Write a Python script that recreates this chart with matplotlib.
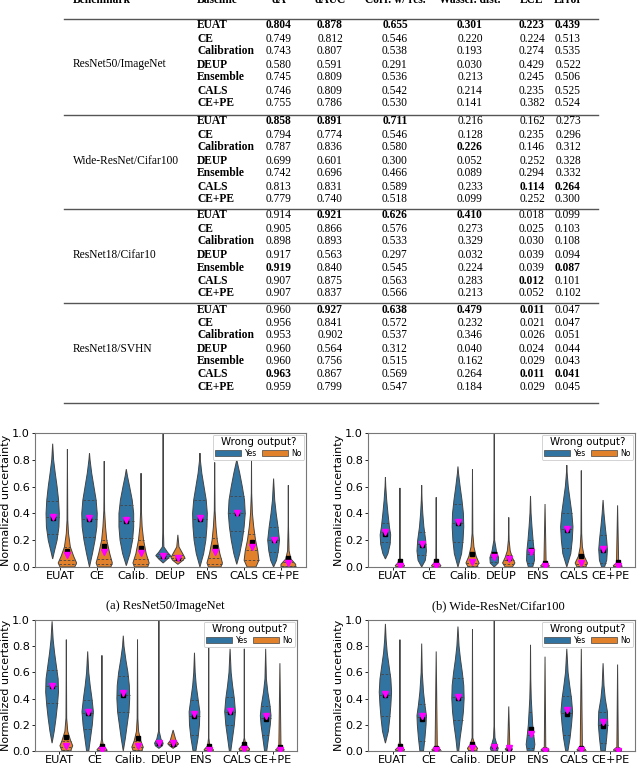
import matplotlib.pyplot as plt
import numpy as np
from matplotlib.patches import Patch

W, H = 640, 768

# ---------------- table data ----------------
benchmarks = ['ResNet50/ImageNet', 'Wide-ResNet/Cifar100', 'ResNet18/Cifar10', 'ResNet18/SVHN']
baselines = ['EUAT', 'CE', 'Calibration', 'DEUP', 'Ensemble', 'CALS', 'CE+PE']
columns = ['Benchmark', 'Baseline', 'dA', 'dAUC', 'Corr. w/ res.', 'Wasser. dist.', 'ECE', 'Error']

imagenet_vals = [
    ['0.804', '0.878', '0.655', '0.301', '0.223', '0.439'],
    ['0.749', '0.812', '0.546', '0.220', '0.224', '0.513'],
    ['0.743', '0.807', '0.538', '0.193', '0.274', '0.535'],
    ['0.580', '0.591', '0.291', '0.030', '0.429', '0.522'],
    ['0.745', '0.809', '0.536', '0.213', '0.245', '0.506'],
    ['0.746', '0.809', '0.542', '0.214', '0.235', '0.525'],
    ['0.755', '0.786', '0.530', '0.141', '0.382', '0.524'],
]
cifar100_vals = [
    ['0.858', '0.891', '0.711', '0.216', '0.162', '0.273'],
    ['0.794', '0.774', '0.546', '0.128', '0.235', '0.296'],
    ['0.787', '0.836', '0.580', '0.226', '0.146', '0.312'],
    ['0.699', '0.601', '0.300', '0.052', '0.252', '0.328'],
    ['0.742', '0.696', '0.466', '0.089', '0.294', '0.332'],
    ['0.813', '0.831', '0.589', '0.233', '0.114', '0.264'],
    ['0.779', '0.740', '0.518', '0.099', '0.252', '0.300'],
]
cifar10_vals = [
    ['0.914', '0.921', '0.626', '0.410', '0.018', '0.099'],
    ['0.905', '0.866', '0.576', '0.273', '0.025', '0.103'],
    ['0.898', '0.893', '0.533', '0.329', '0.030', '0.108'],
    ['0.917', '0.563', '0.297', '0.032', '0.039', '0.094'],
    ['0.919', '0.840', '0.545', '0.224', '0.039', '0.087'],
    ['0.907', '0.875', '0.563', '0.283', '0.012', '0.101'],
    ['0.907', '0.837', '0.566', '0.213', '0.052', '0.102'],
]
svhn_vals = [
    ['0.960', '0.927', '0.638', '0.479', '0.011', '0.047'],
    ['0.956', '0.841', '0.572', '0.232', '0.021', '0.047'],
    ['0.953', '0.902', '0.537', '0.346', '0.026', '0.051'],
    ['0.960', '0.564', '0.312', '0.040', '0.024', '0.044'],
    ['0.960', '0.756', '0.515', '0.162', '0.029', '0.043'],
    ['0.963', '0.867', '0.569', '0.264', '0.011', '0.041'],
    ['0.959', '0.799', '0.547', '0.184', '0.029', '0.045'],
]
# (row, column) of bold entries
imagenet_bold = [(0, 0), (0, 1), (0, 2), (0, 3), (0, 4), (0, 5)]
cifar100_bold = [(0, 0), (0, 1), (0, 2), (2, 3), (5, 4), (5, 5)]
cifar10_bold = [(0, 1), (0, 2), (0, 3), (4, 0), (4, 5), (5, 4)]
svhn_bold = [(0, 1), (0, 2), (0, 3), (0, 4), (5, 0), (5, 4), (5, 5)]

# ---------------- violin data ----------------
cats = ['EUAT', 'CE', 'Calib.', 'DEUP', 'ENS', 'CALS', 'CE+PE']

# profiles: (uncertainty, half width)
a_yes = [
    [(0.06, 0), (0.12, 0.05), (0.2, 0.12), (0.3, 0.17), (0.4, 0.18), (0.5, 0.16), (0.6, 0.12), (0.7, 0.07), (0.8, 0.025), (0.92, 0)],
    [(0.0, 0), (0.1, 0.08), (0.2, 0.15), (0.3, 0.2), (0.4, 0.21), (0.5, 0.18), (0.6, 0.12), (0.7, 0.06), (0.8, 0.015), (0.85, 0)],
    [(0.01, 0), (0.1, 0.1), (0.2, 0.17), (0.3, 0.2), (0.4, 0.2), (0.5, 0.16), (0.6, 0.09), (0.68, 0.03), (0.73, 0)],
    [(0.03, 0), (0.06, 0.12), (0.085, 0.2), (0.11, 0.12), (0.15, 0.02), (0.3, 0.005), (1.0, 0)],
    [(0.0, 0), (0.1, 0.1), (0.2, 0.16), (0.3, 0.19), (0.4, 0.2), (0.5, 0.17), (0.6, 0.11), (0.7, 0.05), (0.8, 0.01), (0.85, 0)],
    [(0.02, 0), (0.1, 0.08), (0.2, 0.15), (0.3, 0.2), (0.4, 0.23), (0.5, 0.21), (0.6, 0.15), (0.7, 0.08), (0.8, 0)],
    [(0.0, 0), (0.05, 0.08), (0.12, 0.13), (0.2, 0.16), (0.3, 0.12), (0.4, 0.07), (0.5, 0.03), (0.66, 0)],
]
a_no = [
    [(0.0, 0.2), (0.03, 0.25), (0.08, 0.17), (0.15, 0.08), (0.25, 0.03), (0.35, 0.01), (0.88, 0)],
    [(0.0, 0.18), (0.03, 0.22), (0.1, 0.15), (0.2, 0.07), (0.3, 0.035), (0.42, 0.01), (0.79, 0)],
    [(0.0, 0.18), (0.03, 0.22), (0.1, 0.14), (0.2, 0.07), (0.3, 0.03), (0.42, 0.01), (0.7, 0)],
    [(0.02, 0), (0.05, 0.14), (0.07, 0.19), (0.1, 0.13), (0.15, 0.03), (0.24, 0)],
    [(0.0, 0.17), (0.03, 0.21), (0.1, 0.14), (0.2, 0.07), (0.3, 0.035), (0.42, 0.01), (0.78, 0)],
    [(0.0, 0.12), (0.05, 0.2), (0.12, 0.17), (0.2, 0.11), (0.3, 0.06), (0.4, 0.025), (0.55, 0.005), (0.8, 0)],
    [(0.0, 0.2), (0.02, 0.2), (0.06, 0.07), (0.12, 0.02), (0.3, 0.005), (0.61, 0)],
]
b_yes = [
    [(0.06, 0), (0.1, 0.07), (0.17, 0.13), (0.24, 0.145), (0.3, 0.11), (0.4, 0.07), (0.5, 0.035), (0.6, 0.01), (0.67, 0)],
    [(0.0, 0), (0.05, 0.1), (0.12, 0.13), (0.2, 0.11), (0.3, 0.06), (0.4, 0.03), (0.5, 0.01), (0.61, 0)],
    [(0.0, 0), (0.1, 0.1), (0.2, 0.14), (0.3, 0.16), (0.4, 0.15), (0.5, 0.11), (0.6, 0.06), (0.7, 0.015), (0.75, 0)],
    [(0.0, 0), (0.03, 0.11), (0.07, 0.12), (0.12, 0.06), (0.2, 0.01), (1.0, 0)],
    [(0.0, 0.06), (0.05, 0.11), (0.12, 0.1), (0.2, 0.07), (0.3, 0.04), (0.4, 0.015), (0.53, 0)],
    [(0.0, 0), (0.1, 0.11), (0.2, 0.15), (0.3, 0.17), (0.4, 0.14), (0.5, 0.09), (0.6, 0.04), (0.7, 0.01), (0.76, 0)],
    [(0.0, 0.04), (0.05, 0.1), (0.13, 0.12), (0.2, 0.1), (0.3, 0.06), (0.4, 0.025), (0.5, 0)],
]
b_no = [
    [(0.0, 0.1), (0.01, 0.13), (0.03, 0.06), (0.06, 0.01), (0.59, 0)],
    [(0.0, 0.1), (0.01, 0.13), (0.03, 0.06), (0.06, 0.01), (0.52, 0)],
    [(0.0, 0.12), (0.03, 0.18), (0.08, 0.1), (0.15, 0.04), (0.25, 0.01), (0.73, 0)],
    [(0.0, 0.1), (0.03, 0.17), (0.07, 0.1), (0.12, 0.04), (0.2, 0.01), (0.37, 0)],
    [(0.0, 0.1), (0.01, 0.12), (0.03, 0.03), (0.47, 0)],
    [(0.0, 0.12), (0.03, 0.17), (0.08, 0.08), (0.15, 0.03), (0.25, 0.01), (0.72, 0)],
    [(0.0, 0.1), (0.01, 0.12), (0.03, 0.03), (0.46, 0)],
]
c_yes = [
    [(0.06, 0), (0.15, 0.06), (0.25, 0.11), (0.35, 0.15), (0.45, 0.18), (0.55, 0.17), (0.65, 0.12), (0.75, 0.07), (0.85, 0.03), (0.99, 0)],
    [(0.0, 0.03), (0.1, 0.08), (0.2, 0.13), (0.3, 0.16), (0.4, 0.12), (0.5, 0.07), (0.6, 0.03), (0.76, 0)],
    [(0.0, 0), (0.1, 0.06), (0.2, 0.11), (0.3, 0.16), (0.4, 0.18), (0.5, 0.17), (0.6, 0.13), (0.7, 0.07), (0.8, 0.02), (0.88, 0)],
    [(0.02, 0), (0.04, 0.1), (0.06, 0.12), (0.09, 0.06), (0.15, 0.01), (1.0, 0)],
    [(0.0, 0.04), (0.1, 0.1), (0.2, 0.14), (0.3, 0.15), (0.4, 0.1), (0.5, 0.05), (0.6, 0.02), (0.75, 0)],
    [(0.0, 0.02), (0.1, 0.07), (0.2, 0.12), (0.3, 0.15), (0.4, 0.12), (0.5, 0.07), (0.6, 0.03), (0.78, 0)],
    [(0.0, 0.03), (0.1, 0.08), (0.2, 0.13), (0.27, 0.15), (0.35, 0.12), (0.45, 0.06), (0.55, 0.02), (0.78, 0)],
]
c_no = [
    [(0.0, 0.12), (0.04, 0.18), (0.08, 0.12), (0.15, 0.04), (0.25, 0.01), (0.85, 0)],
    [(0.0, 0.12), (0.01, 0.14), (0.04, 0.04), (0.1, 0.005), (0.73, 0)],
    [(0.0, 0.12), (0.03, 0.16), (0.08, 0.09), (0.15, 0.03), (0.25, 0.01), (0.85, 0)],
    [(0.02, 0), (0.04, 0.1), (0.055, 0.15), (0.08, 0.08), (0.16, 0)],
    [(0.0, 0.12), (0.01, 0.13), (0.04, 0.03), (0.1, 0.005), (0.8, 0)],
    [(0.0, 0.12), (0.015, 0.15), (0.05, 0.04), (0.1, 0.005), (0.78, 0)],
    [(0.0, 0.1), (0.01, 0.12), (0.03, 0.03), (0.67, 0)],
]
d_yes = [
    [(0.06, 0), (0.15, 0.08), (0.25, 0.12), (0.35, 0.15), (0.45, 0.17), (0.55, 0.15), (0.65, 0.1), (0.75, 0.05), (0.85, 0.02), (0.97, 0)],
    [(0.0, 0.05), (0.1, 0.09), (0.2, 0.12), (0.27, 0.13), (0.35, 0.09), (0.45, 0.05), (0.6, 0.015), (0.82, 0)],
    [(0.0, 0.02), (0.1, 0.06), (0.2, 0.11), (0.3, 0.15), (0.4, 0.17), (0.5, 0.16), (0.6, 0.12), (0.7, 0.07), (0.8, 0.03), (0.95, 0)],
    [(0.0, 0.08), (0.02, 0.11), (0.05, 0.07), (0.1, 0.02), (0.2, 0.005), (1.0, 0)],
    [(0.0, 0.09), (0.05, 0.12), (0.12, 0.09), (0.2, 0.06), (0.3, 0.04), (0.4, 0.02), (0.55, 0.007), (0.81, 0)],
    [(0.0, 0.03), (0.1, 0.09), (0.2, 0.13), (0.3, 0.16), (0.4, 0.13), (0.5, 0.08), (0.6, 0.035), (0.78, 0)],
    [(0.0, 0.06), (0.1, 0.1), (0.2, 0.13), (0.3, 0.12), (0.4, 0.06), (0.5, 0.025), (0.67, 0)],
]
d_no = [
    [(0.0, 0.1), (0.01, 0.13), (0.03, 0.04), (0.08, 0.005), (0.85, 0)],
    [(0.0, 0.1), (0.01, 0.12), (0.03, 0.03), (0.76, 0)],
    [(0.0, 0.1), (0.02, 0.14), (0.05, 0.06), (0.1, 0.01), (0.93, 0)],
    [(0.0, 0.06), (0.015, 0.1), (0.03, 0.03), (0.34, 0)],
    [(0.0, 0.1), (0.01, 0.11), (0.03, 0.02), (0.72, 0)],
    [(0.0, 0.1), (0.01, 0.12), (0.03, 0.03), (0.78, 0)],
    [(0.0, 0.1), (0.01, 0.11), (0.03, 0.02), (0.66, 0)],
]

# quartiles (q1, median, q3)
a_yes_q = [[0.25, 0.37, 0.49], [0.225, 0.36, 0.5], [0.22, 0.34, 0.46], [0.07, 0.085, 0.1], [0.225, 0.36, 0.5], [0.27, 0.4, 0.53], [0.11, 0.2, 0.3]]
a_no_q = [[0.02, 0.05, 0.15], [0.02, 0.06, 0.2], [0.02, 0.06, 0.2], [0.05, 0.07, 0.09], [0.02, 0.07, 0.22], [0.05, 0.13, 0.25], [0.0, 0.01, 0.04]]
b_yes_q = [[0.19, 0.26, 0.33], [0.09, 0.17, 0.26], [0.19, 0.33, 0.47], [0.04, 0.075, 0.11], [0.03, 0.1, 0.2], [0.14, 0.28, 0.4], [0.03, 0.13, 0.24]]
b_no_q = [[0.0, 0.005, 0.02], [0.0, 0.005, 0.02], [0.01, 0.03, 0.1], [0.02, 0.05, 0.09], [0.0, 0.003, 0.01], [0.005, 0.02, 0.08], [0.0, 0.003, 0.01]]
c_yes_q = [[0.37, 0.5, 0.62], [0.17, 0.29, 0.39], [0.3, 0.43, 0.57], [0.045, 0.06, 0.075], [0.12, 0.27, 0.39], [0.2, 0.3, 0.41], [0.12, 0.25, 0.34]]
c_no_q = [[0.01, 0.03, 0.08], [0.0, 0.005, 0.02], [0.01, 0.03, 0.08], [0.04, 0.055, 0.07], [0.0, 0.005, 0.02], [0.0, 0.01, 0.03], [0.0, 0.003, 0.01]]
d_yes_q = [[0.27, 0.43, 0.59], [0.08, 0.26, 0.36], [0.24, 0.41, 0.56], [0.01, 0.03, 0.05], [0.02, 0.12, 0.3], [0.12, 0.29, 0.42], [0.06, 0.2, 0.3]]
d_no_q = [[0.0, 0.005, 0.02], [0.0, 0.003, 0.01], [0.0, 0.01, 0.04], [0.005, 0.015, 0.03], [0.0, 0.002, 0.01], [0.0, 0.003, 0.01], [0.0, 0.002, 0.01]]

# mean (black square) and median (magenta triangle)
a_yes_mean = [0.365, 0.36, 0.34, 0.08, 0.36, 0.40, 0.20]
a_yes_med = [0.37, 0.365, 0.35, 0.085, 0.365, 0.405, 0.205]
a_no_mean = [0.12, 0.155, 0.145, 0.07, 0.15, 0.185, 0.065]
a_no_med = [0.09, 0.11, 0.105, 0.07, 0.11, 0.15, 0.03]
b_yes_mean = [0.25, 0.165, 0.33, 0.095, 0.125, 0.275, 0.13]
b_yes_med = [0.26, 0.175, 0.335, 0.075, 0.115, 0.28, 0.135]
b_no_mean = [0.045, 0.045, 0.10, 0.07, 0.03, 0.08, 0.035]
b_no_med = [0.01, 0.01, 0.04, 0.06, 0.005, 0.03, 0.005]
c_yes_mean = [0.495, 0.29, 0.43, 0.06, 0.27, 0.30, 0.245]
c_yes_med = [0.5, 0.295, 0.44, 0.06, 0.28, 0.305, 0.265]
c_no_mean = [0.11, 0.04, 0.10, 0.055, 0.035, 0.05, 0.03]
c_no_med = [0.04, 0.01, 0.035, 0.06, 0.01, 0.015, 0.005]
d_yes_mean = [0.43, 0.245, 0.405, 0.04, 0.17, 0.285, 0.19]
d_yes_med = [0.435, 0.265, 0.41, 0.03, 0.13, 0.31, 0.22]
d_no_mean = [0.04, 0.02, 0.055, 0.02, 0.005, 0.02, 0.01]
d_no_med = [0.01, 0.005, 0.02, 0.02, 0.0, 0.005, 0.0]

BLUE = '#3274a1'
ORANGE = '#e1812c'
EDGE = '#444444'
SERIF = ['Liberation Serif', 'DejaVu Serif']


def fx(x):
    return x / W


def fy(y):
    return 1 - y / H


fig = plt.figure(figsize=(6.4, 7.68), dpi=100)

# ---------------- table ----------------
col_x = [73, 197, 279, 330, 395, 470, 532, 568]
for i, c in enumerate(columns):
    ha = 'left' if i < 2 else 'center'
    fig.text(fx(col_x[i]), fy(3), c, ha=ha, va='baseline', fontsize=8.3,
             fontweight='bold', family=SERIF)

block_tops = [19, 115, 209, 303]
table_bottom = 403
all_vals = [imagenet_vals, cifar100_vals, cifar10_vals, svhn_vals]
all_bold = [imagenet_bold, cifar100_bold, cifar10_bold, svhn_bold]
for top in block_tops + [table_bottom]:
    fig.add_artist(plt.Line2D([fx(64), fx(598)], [fy(top), fy(top)], color='#555555', lw=1.0))

for b, top in enumerate(block_tops):
    rows_y = [top + 6.5 + 13.0 * r for r in range(len(baselines))]
    fig.text(fx(col_x[0]), fy(rows_y[3]), benchmarks[b], ha='left', va='center',
             fontsize=8.3, family=SERIF)
    for r, name in enumerate(baselines):
        fig.text(fx(col_x[1]), fy(rows_y[r]), name, ha='left', va='center',
                 fontsize=8.3, fontweight='bold', family=SERIF)
        for c, v in enumerate(all_vals[b][r]):
            wt = 'bold' if (r, c) in all_bold[b] else 'normal'
            fig.text(fx(col_x[c + 2]), fy(rows_y[r]), v, ha='center', va='center',
                     fontsize=8.3, fontweight=wt, family=SERIF)


# ---------------- violins ----------------
def draw_violin(ax, xc, prof, color, quarts):
    ys = np.array([p[0] for p in prof])
    ws = np.array([p[1] for p in prof])
    xs = np.concatenate([xc - ws, (xc + ws)[::-1]])
    yy = np.concatenate([ys, ys[::-1]])
    ax.fill(xs, yy, facecolor=color, edgecolor=EDGE, lw=0.7, zorder=2)
    for q in quarts:
        w = np.interp(q, ys, ws)
        ax.plot([xc - w, xc + w], [q, q], color=EDGE, lw=0.6,
                ls=(0, (3, 2)), zorder=3)


panels = [
    ([35, 433, 306, 567], a_yes, a_no, a_yes_q, a_no_q, a_yes_mean, a_yes_med, a_no_mean, a_no_med),
    ([368, 433, 635, 567], b_yes, b_no, b_yes_q, b_no_q, b_yes_mean, b_yes_med, b_no_mean, b_no_med),
    ([35, 620, 297, 751], c_yes, c_no, c_yes_q, c_no_q, c_yes_mean, c_yes_med, c_no_mean, c_no_med),
    ([368, 620, 635, 751], d_yes, d_no, d_yes_q, d_no_q, d_yes_mean, d_yes_med, d_no_mean, d_no_med),
]

for box, yes, no, yq, nq, ymean, ymed, nmean, nmed in panels:
    l, t, r, bt = box
    ax = fig.add_axes([fx(l), fy(bt), (r - l) / W, (bt - t) / H])
    for i in range(len(cats)):
        draw_violin(ax, i - 0.2, yes[i], BLUE, yq[i])
        draw_violin(ax, i + 0.2, no[i], ORANGE, nq[i])
        ax.plot(i - 0.2, ymean[i], 's', color='black', ms=3.5, zorder=4)
        ax.plot(i + 0.2, nmean[i], 's', color='black', ms=3.5, zorder=4)
        ax.plot(i - 0.2, ymed[i], 'v', color='magenta', ms=4.5, zorder=5)
        ax.plot(i + 0.2, nmed[i], 'v', color='magenta', ms=4.5, zorder=5)
    ax.set_xlim(-0.68, 6.68)
    ax.set_ylim(0, 1.0)
    ax.set_xticks(range(len(cats)))
    ax.set_xticklabels(cats, fontsize=8.1)
    ax.set_yticks(np.arange(0, 1.01, 0.2))
    ax.set_yticklabels([f'{v:.1f}' for v in np.arange(0, 1.01, 0.2)], fontsize=8.1)
    ax.tick_params(axis='x', length=2, width=0.6, pad=0.8)
    ax.tick_params(axis='y', length=2.5, width=0.6, pad=1.2)
    for s in ax.spines.values():
        s.set_color('#777777')
        s.set_linewidth(0.8)
    ax.set_ylabel('Normalized uncertainty', fontsize=8.0, labelpad=0.5)
    handles = [Patch(facecolor=BLUE, edgecolor=EDGE, lw=0.5),
               Patch(facecolor=ORANGE, edgecolor=EDGE, lw=0.5)]
    leg = ax.legend(handles, ['Yes', 'No'], title='Wrong output?', ncol=2,
                    loc='upper right', fontsize=5.5, title_fontsize=7.4,
                    handlelength=3.4, handleheight=0.9, columnspacing=0.6,
                    handletextpad=0.5, borderpad=0.3, labelspacing=0.2,
                    framealpha=1.0, borderaxespad=0.25)
    leg.get_frame().set_linewidth(0.6)

fig.text(fx(165), fy(606), '(a) ResNet50/ImageNet', ha='center', va='center',
         fontsize=9, family=SERIF)
fig.text(fx(498), fy(606), '(b) Wide-ResNet/Cifar100', ha='center', va='center',
         fontsize=9, family=SERIF)

fig.savefig('out.png', dpi=100)
